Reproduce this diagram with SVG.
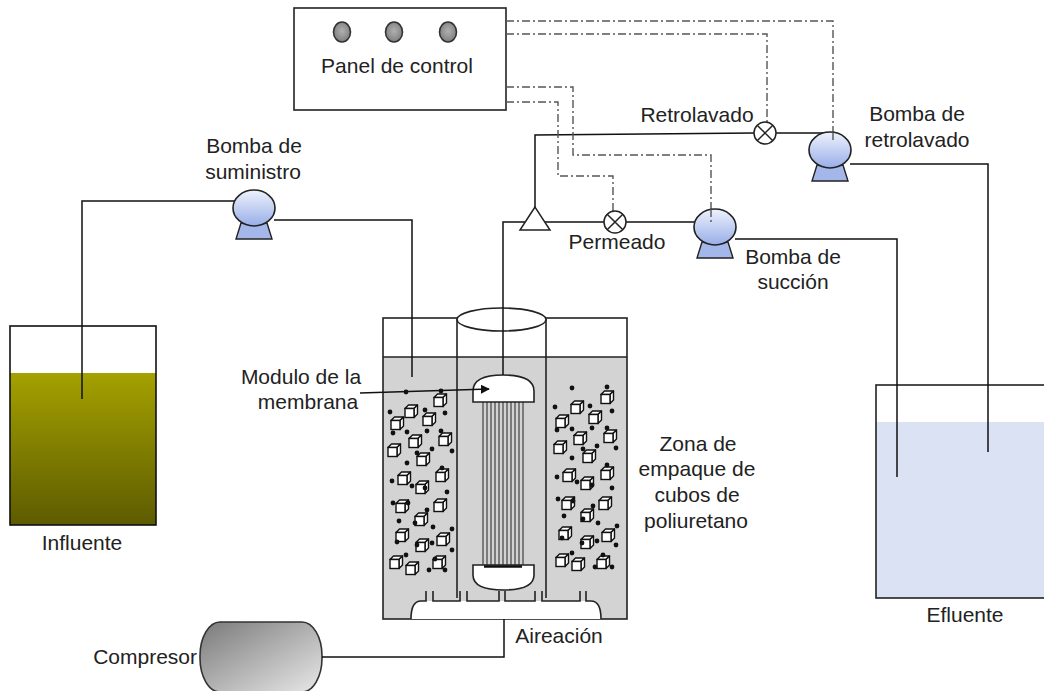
<svg xmlns="http://www.w3.org/2000/svg" xmlns:xlink="http://www.w3.org/1999/xlink" width="1044" height="691" viewBox="0 0 1044 691">
  <style>
    text { font-family: "Liberation Sans", Arial, sans-serif; font-size: 21px; fill: #222; }
    .c { text-anchor: middle; }
    .pipe { fill: none; stroke: #111; stroke-width: 1.5; }
    .ctrl { fill: none; stroke: #555; stroke-width: 1.4; stroke-dasharray: 8 3 2 3; }
    .edge { fill: none; stroke: #222; stroke-width: 1.6; }
    .pumpbody { fill: url(#pumpGrad); stroke: #222; stroke-width: 1.6; }
    .pumpfoot { fill: #a4b7ea; stroke: #222; stroke-width: 1.4; }
    .valve { fill: #fff; stroke: #222; stroke-width: 1.5; }
    .dot { fill: #111; }
    .fiber { stroke: #333; stroke-width: 1.1; }
  </style>
  <defs>
    <linearGradient id="pumpGrad" x1="0" y1="0" x2="0" y2="1">
      <stop offset="0" stop-color="#eef2fc"/>
      <stop offset="1" stop-color="#98aee8"/>
    </linearGradient>
    <linearGradient id="influentGrad" x1="0" y1="0" x2="0" y2="1">
      <stop offset="0" stop-color="#a4a100"/>
      <stop offset="1" stop-color="#5d5b00"/>
    </linearGradient>
    <linearGradient id="compGrad" x1="0" y1="0" x2="1" y2="1">
      <stop offset="0" stop-color="#7a7a7a"/>
      <stop offset="1" stop-color="#e8e8e8"/>
    </linearGradient>
    <radialGradient id="knobGrad" cx="0.5" cy="0.45" r="0.6">
      <stop offset="0" stop-color="#b0b0b0"/>
      <stop offset="1" stop-color="#7a7a7a"/>
    </radialGradient>
    <marker id="arrowHead" viewBox="0 0 10 10" refX="9" refY="5" markerWidth="9" markerHeight="9" markerUnits="userSpaceOnUse" orient="auto">
      <path d="M0,0 L10,5 L0,10 z" fill="#111"/>
    </marker>
    <!-- polyurethane foam cube -->
    <g id="cube">
      <path d="M-6,-2.5 l3.5,-3.5 h9 l-3.5,3.5 z" fill="#fff" stroke="#111" stroke-width="1.4" stroke-linejoin="round"/>
      <path d="M3,-2.5 l3.5,-3.5 v9 l-3.5,3.5 z" fill="#fff" stroke="#111" stroke-width="1.4" stroke-linejoin="round"/>
      <rect x="-6" y="-2.5" width="9" height="9" fill="#fff" stroke="#111" stroke-width="1.4"/>
    </g>
    <!-- pump symbol centred on the body -->
    <g id="pump">
      <path class="pumpfoot" d="M-13,15 H13 L18,31 H-18 Z"/>
      <ellipse class="pumpbody" cx="0" cy="0" rx="21" ry="18"/>
    </g>
    <!-- shut-off valve -->
    <g id="valve">
      <circle class="valve" r="11"/>
      <path d="M-7.8,-7.8 L7.8,7.8 M7.8,-7.8 L-7.8,7.8" stroke="#222" stroke-width="1.5"/>
    </g>
  </defs>

  <rect width="1044" height="691" fill="#fff"/>

  <!-- control panel -->
  <g id="panel">
    <rect x="294" y="8" width="212" height="102" fill="#fff" stroke="#222" stroke-width="1.6"/>
    <ellipse cx="342" cy="32" rx="8.5" ry="10" fill="url(#knobGrad)" stroke="#333" stroke-width="1.6"/>
    <ellipse cx="394" cy="32" rx="8.5" ry="10" fill="url(#knobGrad)" stroke="#333" stroke-width="1.6"/>
    <ellipse cx="448" cy="32" rx="8.5" ry="10" fill="url(#knobGrad)" stroke="#333" stroke-width="1.6"/>
    <text class="c" x="397" y="73">Panel de control</text>
  </g>

  <!-- influent tank -->
  <g id="influente">
    <rect x="10" y="373" width="146" height="152" fill="url(#influentGrad)"/>
    <rect x="10" y="326" width="146" height="199" fill="none" stroke="#111" stroke-width="1.6"/>
    <text class="c" x="82" y="550">Influente</text>
  </g>

  <!-- effluent tank -->
  <g id="efluente">
    <rect x="876" y="422" width="180" height="176" fill="#dae2f3"/>
    <rect x="876" y="385" width="180" height="213" fill="none" stroke="#222" stroke-width="1.6"/>
    <text class="c" x="965" y="622">Efluente</text>
  </g>

  <!-- bioreactor -->
  <g id="reactor">
    <rect x="383" y="357" width="244" height="262" fill="#d3d3d3"/>
    <rect x="383" y="318" width="244" height="301" fill="none" stroke="#222" stroke-width="1.6"/>
    <line x1="383" y1="357" x2="627" y2="357" stroke="#222" stroke-width="1.4"/>
    <line x1="457" y1="319" x2="457" y2="598" class="edge"/>
    <line x1="546" y1="319" x2="546" y2="598" class="edge"/>
    <ellipse cx="501.5" cy="319.5" rx="44.5" ry="11.5" fill="#fff" stroke="#222" stroke-width="1.6"/>
    <!-- air diffuser -->
    <path d="M411,619 Q411,601 421,601 H591 Q601,601 601,619 Z" fill="#fff"/>
    <path class="edge" d="M411,619 Q411,601 421,601 H426 V591 M433,591 V601 H460 V591 M467,591 V601 H499 V591 M505,591 V601 H535 V591 M542,591 V601 H580 V591 M586,591 V601 H591 Q601,601 601,619"/>
  </g>

  <!-- membrane module -->
  <g id="membrana">
    <g class="fiber">
      <line x1="483" y1="402" x2="483" y2="566"/>
      <line x1="487" y1="402" x2="487" y2="566"/>
      <line x1="491" y1="402" x2="491" y2="566"/>
      <line x1="495" y1="402" x2="495" y2="566"/>
      <line x1="499" y1="402" x2="499" y2="566"/>
      <line x1="503" y1="402" x2="503" y2="566"/>
      <line x1="507" y1="402" x2="507" y2="566"/>
      <line x1="511" y1="402" x2="511" y2="566"/>
      <line x1="515" y1="402" x2="515" y2="566"/>
      <line x1="519" y1="402" x2="519" y2="566"/>
      <line x1="523" y1="402" x2="523" y2="566"/>
    </g>
    <path d="M473,402 V391 Q473,375 503,375 Q534,375 534,391 V402 Z" fill="#fff" stroke="#222" stroke-width="1.6"/>
    <path d="M473,565 H534 V575 Q534,590 503.5,590 Q473,590 473,575 Z" fill="#fff" stroke="#222" stroke-width="1.6"/>
    <line x1="484" y1="566.5" x2="522" y2="566.5" stroke="#111" stroke-width="2.6"/>
  </g>

  <!-- packing media: left compartment -->
  <g id="relleno-izq">
    <use xlink:href="#cube" x="440" y="400"/><use xlink:href="#cube" x="411" y="411"/>
    <use xlink:href="#cube" x="429" y="419"/><use xlink:href="#cube" x="397" y="423"/>
    <use xlink:href="#cube" x="415" y="441"/><use xlink:href="#cube" x="445" y="439"/>
    <use xlink:href="#cube" x="394" y="450"/><use xlink:href="#cube" x="423" y="459"/>
    <use xlink:href="#cube" x="442" y="475"/><use xlink:href="#cube" x="404" y="478"/>
    <use xlink:href="#cube" x="422" y="487"/><use xlink:href="#cube" x="402" y="506"/>
    <use xlink:href="#cube" x="440" y="505"/><use xlink:href="#cube" x="421" y="519"/>
    <use xlink:href="#cube" x="402" y="535"/><use xlink:href="#cube" x="443" y="539"/>
    <use xlink:href="#cube" x="422" y="545"/><use xlink:href="#cube" x="396" y="562"/>
    <use xlink:href="#cube" x="412" y="568"/><use xlink:href="#cube" x="439" y="562"/>
    <g class="dot">
      <circle cx="406" cy="392" r="2.4"/><circle cx="441" cy="391" r="2.4"/>
      <circle cx="390" cy="412" r="2.4"/><circle cx="425" cy="410" r="2.4"/>
      <circle cx="445" cy="413" r="2.4"/><circle cx="393" cy="433" r="2.4"/>
      <circle cx="407" cy="432" r="2.4"/><circle cx="427" cy="431" r="2.4"/>
      <circle cx="441" cy="431" r="2.4"/><circle cx="417" cy="453" r="2.4"/>
      <circle cx="432" cy="449" r="2.4"/><circle cx="452" cy="451" r="2.4"/>
      <circle cx="407" cy="463" r="2.4"/><circle cx="442" cy="468" r="2.4"/>
      <circle cx="392" cy="481" r="2.4"/><circle cx="412" cy="486" r="2.4"/>
      <circle cx="425" cy="488" r="2.4"/><circle cx="447" cy="492" r="2.4"/>
      <circle cx="393" cy="503" r="2.4"/><circle cx="408" cy="503" r="2.4"/>
      <circle cx="427" cy="510" r="2.4"/><circle cx="399" cy="521" r="2.4"/>
      <circle cx="415" cy="523" r="2.4"/><circle cx="433" cy="527" r="2.4"/>
      <circle cx="452" cy="529" r="2.4"/><circle cx="397" cy="542" r="2.4"/>
      <circle cx="417" cy="545" r="2.4"/><circle cx="432" cy="543" r="2.4"/>
      <circle cx="452" cy="550" r="2.4"/><circle cx="406" cy="555" r="2.4"/>
      <circle cx="429" cy="570" r="2.4"/><circle cx="445" cy="570" r="2.4"/>
      <circle cx="435" cy="559" r="2.4"/>
    </g>
  </g>

  <!-- packing media: right compartment -->
  <g id="relleno-der">
    <use xlink:href="#cube" x="607" y="397"/><use xlink:href="#cube" x="577" y="407"/>
    <use xlink:href="#cube" x="595" y="417"/><use xlink:href="#cube" x="562" y="421"/>
    <use xlink:href="#cube" x="580" y="438"/><use xlink:href="#cube" x="610" y="436"/>
    <use xlink:href="#cube" x="560" y="447"/><use xlink:href="#cube" x="589" y="456"/>
    <use xlink:href="#cube" x="607" y="473"/><use xlink:href="#cube" x="569" y="475"/>
    <use xlink:href="#cube" x="587" y="483"/><use xlink:href="#cube" x="568" y="503"/>
    <use xlink:href="#cube" x="605" y="503"/><use xlink:href="#cube" x="587" y="515"/>
    <use xlink:href="#cube" x="565" y="533"/><use xlink:href="#cube" x="608" y="535"/>
    <use xlink:href="#cube" x="587" y="542"/><use xlink:href="#cube" x="562" y="560"/>
    <use xlink:href="#cube" x="578" y="564"/><use xlink:href="#cube" x="603" y="562"/>
    <g class="dot">
      <circle cx="572" cy="388" r="2.4"/><circle cx="607" cy="387" r="2.4"/>
      <circle cx="555" cy="407" r="2.4"/><circle cx="590" cy="406" r="2.4"/>
      <circle cx="612" cy="411" r="2.4"/><circle cx="557" cy="430" r="2.4"/>
      <circle cx="572" cy="429" r="2.4"/><circle cx="592" cy="428" r="2.4"/>
      <circle cx="607" cy="428" r="2.4"/><circle cx="583" cy="449" r="2.4"/>
      <circle cx="597" cy="446" r="2.4"/><circle cx="616" cy="448" r="2.4"/>
      <circle cx="572" cy="458" r="2.4"/><circle cx="607" cy="465" r="2.4"/>
      <circle cx="557" cy="477" r="2.4"/><circle cx="577" cy="482" r="2.4"/>
      <circle cx="592" cy="485" r="2.4"/><circle cx="612" cy="488" r="2.4"/>
      <circle cx="558" cy="499" r="2.4"/><circle cx="573" cy="501" r="2.4"/>
      <circle cx="593" cy="506" r="2.4"/><circle cx="564" cy="516" r="2.4"/>
      <circle cx="583" cy="519" r="2.4"/><circle cx="598" cy="523" r="2.4"/>
      <circle cx="617" cy="526" r="2.4"/><circle cx="562" cy="538" r="2.4"/>
      <circle cx="582" cy="543" r="2.4"/><circle cx="597" cy="541" r="2.4"/>
      <circle cx="616" cy="545" r="2.4"/><circle cx="572" cy="553" r="2.4"/>
      <circle cx="595" cy="567" r="2.4"/><circle cx="612" cy="567" r="2.4"/>
      <circle cx="603" cy="555" r="2.4"/>
    </g>
  </g>

  <!-- compressor -->
  <g id="compresor">
    <rect x="200" y="622" width="122" height="70" rx="20" ry="34" fill="url(#compGrad)" stroke="#333" stroke-width="1.6"/>
    <text x="197" y="664" text-anchor="end">Compresor</text>
  </g>

  <!-- piping and control wiring -->
  <g id="connectors">
    <!-- feed line -->
    <polyline class="pipe" points="82,399 82,201 234,201"/>
    <polyline class="pipe" points="274,220 412,220 412,377"/>
    <!-- permeate line -->
    <polyline class="pipe" points="503,375 503,222 604,222"/>
    <line class="pipe" x1="626" y1="222" x2="695" y2="222"/>
    <polyline class="pipe" points="735,239 897,239 897,477"/>
    <!-- backwash line -->
    <polyline class="pipe" points="535,207 535,135 754,133"/>
    <line class="pipe" x1="776" y1="133" x2="830" y2="133"/>
    <polyline class="pipe" points="850,164 988,164 988,452"/>
    <!-- aeration line -->
    <polyline class="pipe" points="322,657 504,657 504,619"/>
    <!-- label pointer -->
    <line x1="360" y1="393" x2="489" y2="389" stroke="#111" stroke-width="1.5" marker-end="url(#arrowHead)"/>
    <!-- control signals -->
    <polyline class="ctrl" points="506,21 833,21 833,132"/>
    <polyline class="ctrl" points="506,34 767,34 767,122"/>
    <polyline class="ctrl" points="506,87 573,87 573,155 711,155 711,224"/>
    <polyline class="ctrl" points="506,102 558,102 558,176 613,176 613,211"/>
  </g>

  <!-- pumps, valves and splitter -->
  <g id="bomba-suministro">
    <use xlink:href="#pump" x="254" y="208"/>
    <text class="c" x="254" y="153">Bomba de</text>
    <text class="c" x="253" y="179">suministro</text>
  </g>
  <g id="bomba-succion">
    <use xlink:href="#pump" x="715" y="227"/>
    <line class="ctrl" x1="711" y1="209" x2="711" y2="224"/>
    <text class="c" x="793" y="264">Bomba de</text>
    <text class="c" x="793" y="289">succión</text>
  </g>
  <g id="bomba-retrolavado">
    <use xlink:href="#pump" x="830" y="150"/>
    <line class="ctrl" x1="833" y1="132" x2="833" y2="140"/>
    <text class="c" x="917" y="121">Bomba de</text>
    <text class="c" x="917" y="147">retrolavado</text>
  </g>
  <g id="valvula-permeado">
    <use xlink:href="#valve" x="615" y="222"/>
    <text class="c" x="617" y="249">Permeado</text>
  </g>
  <g id="valvula-retrolavado">
    <use xlink:href="#valve" x="765" y="133"/>
    <text class="c" x="697" y="122">Retrolavado</text>
  </g>
  <g id="derivacion">
    <path d="M535,207 L520,230 H550 Z" fill="#fff" stroke="#222" stroke-width="1.5" stroke-linejoin="miter"/>
  </g>

  <!-- labels -->
  <g id="etiquetas">
    <text class="c" x="301" y="384">Modulo de la</text>
    <text class="c" x="308" y="409">membrana</text>
    <text class="c" x="698" y="451">Zona de</text>
    <text class="c" x="697" y="476">empaque de</text>
    <text class="c" x="697" y="502">cubos de</text>
    <text class="c" x="696" y="528">poliuretano</text>
    <text class="c" x="559" y="643">Aireación</text>
  </g>
</svg>
